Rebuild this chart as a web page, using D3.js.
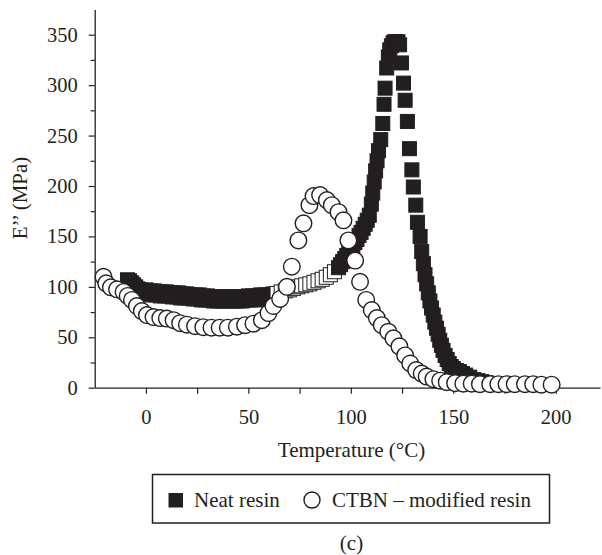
<!DOCTYPE html>
<html>
<head>
<meta charset="utf-8">
<script src="https://cdn.jsdelivr.net/npm/d3@7"></script>
<style>
  html, body { margin: 0; padding: 0; background: #fff; }
  svg { display: block; }
  svg text { font-family: "Liberation Serif", "Times New Roman", serif !important; fill: #231f20; }
</style>
</head>
<body>
<svg id="chart" width="602" height="555"></svg>
<script>
// ---- Data ----
const neatTemp = [
  -9,-8,-7,-6,-5,-4,-3,-2,-1,
  0,1,2,3,4,5,6,7,8,9,
  10,11,12,13,14,15,16,17,18,19,
  20,21,22,23,24,25,26,27,28,29,
  30,31,32,33,34,35,36,37,38,39,
  40,41,42,43,44,45,46,47,48,49,
  50,51,52,53,54,55,56,57,58,59,
  60,61,62,63,
  64,66,68,70,72,74,76,78,80,82,84,86,88,90,92,94,
  95,96,97,98,99,
  100,101,102,103,104,105,106,107,108,109,
  110,110.7,111.4,112.1,112.8,113.5,114.6,115.6,116.2,116.7,
  117.5,118.3,119,119.8,120.6,121.4,122.2,123,123.8,124.7,
  125.7,126.5,127.6,128.6,129.8,130.5,131.7,132.5,133.8,134.6,
  135.4,136.2,137,137.8,138.6,139.4,140.2,141,141.8,142.6,
  143.4,144.2,145,146,147,148,149,150,151.5,153,
  154.5,156,158,160,162,164,166
];
const neatE = [
  107,106,104,102,100,98,97,96,95,
  97,93,96,92,96,92,95,91,95,91,
  95,91,94,90,94,90,94,89,93,89,
  93,89,92,88,92,88,92,87,91,87,
  91,87,90,86,90,86,90,86,90,86,
  90,86,90,86,90,86,90,86,90,87,
  91,87,91,87,91,88,92,88,92,89,
  92,90,93,91,
  93.5,95,96,97,98.5,100,101,102,103,104.5,106,107.5,109.5,112,115,119,
  122,125,128,131,134,
  137,140,144,147,151,154,158,162,166,171,
  182,193,204,215,225,235,246,262,281,297,
  317,328,335,339,342,343,343,343,340,322,
  302,285,264,237,216,199,181,164,150,135,
  123,112,103,94,86,79,72,65,59,53,
  47,42,37,32,28,24,21,19,17,16,
  14,12.5,10.5,8,7,6,5
];
const ctbnTemp = [
  -20.7,-19.4,-17.1,-14.1,-10.9,-8.9,-6.8,-4.4,-2,0.5,
  3.7,7,10.2,13.5,16.7,20,24,28,32,36,
  40,44.4,48.4,52.5,56.6,59.8,62.2,65.5,68.8,71.2,
  74.4,76.9,79.8,81.8,85,88.3,90.7,94,96.4,98.8,
  102.1,104.5,107.5,110.2,112.7,115.1,118.3,120.8,123.7,126.5,
  129,131.9,134.6,137,140.3,143.6,146.8,150.9,154.9,159,
  163,168,172,176,180,185,189,193,198
];
const ctbnE = [
  110,103.5,99.5,97.5,95,91,87,81,76,72,
  70,69,68.5,67,64,62.5,61,60,59.5,59.5,
  59.5,60.5,62,63.5,67,74,81,88,100,120,
  146,163,181,190,191,186,181,174,166,146,
  126,105,87,77,69,62,55.5,49,41,32,
  24,17.5,14,11,8.5,7,5.5,4.5,4,4,
  3.5,3.5,3.5,3.5,3.5,3.5,3.5,3,3
];
const xTicks = [0,25,50,75,100,125,150,175,200];
const xLabels = [0,50,100,150,200];
const yTicks = [0,25,50,75,100,125,150,175,200,225,250,275,300,325,350];
const yLabels = [0,50,100,150,200,250,300,350];
const seriesNames = ["Neat resin", "CTBN \u2013 modified resin"];
const xTitle = "Temperature (\u00B0C)";
const yTitle = "E\u2019\u2019 (MPa)";
const panelLabel = "(c)";

// ---- Styles / layout ----
const ink = "#231f20";
const serif = '"Liberation Serif", "Times New Roman", serif';
const hollowFrom = 64, hollowTo = 92;   // neat-resin squares drawn as outlines in this range
const sq = 14, rad = 8.3;

const svg = d3.select("#chart");
const x = d3.scaleLinear().domain([-25, 221.6]).range([94.7, 600]);
const y = d3.scaleLinear().domain([0, 375]).range([387.7, 9.5]);

// axes
const xAxis = d3.axisBottom(x).tickValues(xTicks).tickSizeInner(6).tickSizeOuter(0)
  .tickPadding(16).tickFormat(d => xLabels.includes(d) ? d : "");
const gx = svg.append("g").attr("transform", `translate(0,${y(0)})`).call(xAxis)
  .attr("font-family", null).attr("font-size", null);
gx.select(".domain").attr("stroke", ink).attr("stroke-width", 1.3);
gx.selectAll(".tick line").attr("stroke", ink).attr("stroke-width", 1.2);
gx.selectAll(".tick text").style("font-size", "20.5px").style("font-family", serif).attr("fill", ink);

const yAxis = d3.axisLeft(y).tickValues(yTicks).tickSizeInner(6).tickSizeOuter(0)
  .tickPadding(11).tickFormat(d => yLabels.includes(d) ? d : "");
const gy = svg.append("g").attr("transform", `translate(${x(-25)},0)`).call(yAxis)
  .attr("font-family", null).attr("font-size", null);
gy.select(".domain").attr("stroke", ink).attr("stroke-width", 1.3);
gy.selectAll(".tick line").attr("stroke", ink).attr("stroke-width", 1.2)
  .attr("x2", d => yLabels.includes(d) ? -6 : -4);
gy.selectAll(".tick text").style("font-size", "20.5px").style("font-family", serif).attr("fill", ink);

// titles
svg.append("text").attr("x", 351.5).attr("y", 457).attr("text-anchor", "middle")
  .style("font-size", "21px").text(xTitle);
svg.append("text").attr("transform", "translate(27,198) rotate(-90)").attr("text-anchor", "middle")
  .style("font-size", "21px").text(yTitle);

// neat resin squares
const neat = neatTemp.map((t, i) => ({t, v: neatE[i]}));
svg.append("g").selectAll("rect").data(neat).join("rect")
  .attr("x", d => x(d.t) - sq/2).attr("y", d => y(d.v) - sq/2)
  .attr("width", sq).attr("height", sq)
  .attr("fill", d => (d.t >= hollowFrom && d.t <= hollowTo) ? "#fff" : ink)
  .attr("stroke", ink).attr("stroke-width", 1);

// CTBN circles
const ctbn = ctbnTemp.map((t, i) => ({t, v: ctbnE[i]}));
svg.append("g").selectAll("circle").data(ctbn).join("circle")
  .attr("cx", d => x(d.t)).attr("cy", d => y(d.v)).attr("r", rad)
  .attr("fill", "#fff").attr("stroke", ink).attr("stroke-width", 1.4);

// legend
const lg = svg.append("g");
lg.append("rect").attr("x", 152.5).attr("y", 474.5).attr("width", 397).attr("height", 48.5)
  .attr("fill", "#fff").attr("stroke", ink).attr("stroke-width", 1.5);
lg.append("rect").attr("x", 168.5).attr("y", 493).attr("width", 14.5).attr("height", 14.5).attr("fill", ink);
lg.append("text").attr("x", 194).attr("y", 507).style("font-size", "21px").text(seriesNames[0]);
lg.append("circle").attr("cx", 312).attr("cy", 500).attr("r", 8)
  .attr("fill", "#fff").attr("stroke", ink).attr("stroke-width", 1.4);
lg.append("text").attr("x", 332).attr("y", 507).style("font-size", "21px").text(seriesNames[1]);

svg.append("text").attr("x", 351.5).attr("y", 550).attr("text-anchor", "middle")
  .style("font-size", "21px").text(panelLabel);
</script>
</body>
</html>
